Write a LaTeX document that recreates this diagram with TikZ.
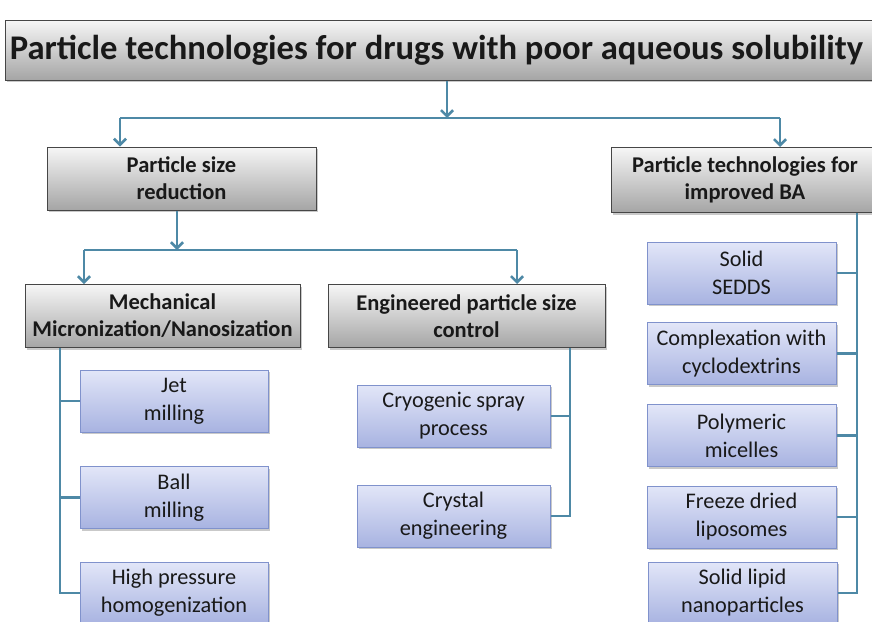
\documentclass[tikz,border=0pt]{standalone}
\usepackage{fontspec}
\setmainfont{Carlito}
\usetikzlibrary{arrows.meta,shadows}

\definecolor{linkblue}{RGB}{78,137,166}
\definecolor{greytop}{RGB}{246,246,246}
\definecolor{greybot}{RGB}{165,165,165}
\definecolor{greyedge}{RGB}{70,70,70}
\definecolor{bluetop}{RGB}{226,230,248}
\definecolor{bluebot}{RGB}{168,179,225}
\definecolor{blueedge}{RGB}{128,146,204}

\tikzset{
  boxshadow/.style={drop shadow={shadow xshift=1.5pt, shadow yshift=-2pt, opacity=0.35, fill=black!60}},
  greybox/.style={rectangle, draw=greyedge, line width=1pt,
    top color=greytop, bottom color=greybot, boxshadow,
    align=center, inner sep=0pt, text=black!90,
    font=\bfseries\fontsize{22.5}{27}\selectfont},
  titlebox/.style={greybox, font=\bfseries\fontsize{34.6}{40}\selectfont},
  bluebox/.style={rectangle, draw=blueedge, line width=1pt,
    top color=bluetop, bottom color=bluebot, boxshadow,
    align=center, inner sep=0pt, text=black!90,
    font=\fontsize{22.3}{28}\selectfont},
  conn/.style={draw=linkblue, line width=2.6pt},
  arr/.style={conn, -{Straight Barb[length=6pt,width=12pt,line width=2.6pt]}},
}

\begin{document}
\begin{tikzpicture}[x=1pt,y=-1pt]
\useasboundingbox[fill=white] (0,0) rectangle (872,621);

% header and first level
\node[titlebox, minimum width=870pt, minimum height=60pt] (title) at (440,50)
  {Particle technologies for drugs with poor aqueous solubility\hspace*{7pt}};
\node[greybox, minimum width=269pt, minimum height=63pt] (psr) at (181.5,178.5)
  {Particle size\\reduction};
\node[greybox, minimum width=268pt, minimum height=65pt] (ba) at (745,180)
  {Particle technologies for\\improved BA};

% second level
\node[greybox, minimum width=275pt, minimum height=63pt] (mech) at (162.5,316)
  {Mechanical\\Micronization/Nanosization};
\node[greybox, minimum width=277pt, minimum height=63pt] (eng) at (466.5,316)
  {Engineered particle size\\control};

% mechanical methods
\node[bluebox, minimum width=188pt, minimum height=62pt] (jet) at (174,401)
  {Jet\\milling};
\node[bluebox, minimum width=188pt, minimum height=62pt] (ball) at (174,497.5)
  {Ball\\milling};
\node[bluebox, minimum width=188pt, minimum height=62pt] (hph) at (174,593)
  {High pressure\\homogenization};

% engineered methods
\node[bluebox, minimum width=193pt, minimum height=62pt] (cryo) at (453.5,416)
  {Cryogenic spray\\process};
\node[bluebox, minimum width=193pt, minimum height=62pt] (cryst) at (453.5,516)
  {Crystal\\engineering};

% bioavailability technologies
\node[bluebox, minimum width=189pt, minimum height=62pt] (sedds) at (741.5,273)
  {Solid\\SEDDS};
\node[bluebox, minimum width=189pt, minimum height=62pt] (cyclo) at (741.5,353.5)
  {Complexation with\\cyclodextrins};
\node[bluebox, minimum width=189pt, minimum height=62pt] (micel) at (741.5,435.5)
  {Polymeric\\micelles};
\node[bluebox, minimum width=189pt, minimum height=62pt] (lipo) at (741.5,517)
  {Freeze dried\\liposomes};
\node[bluebox, minimum width=189pt, minimum height=62pt] (sln) at (742.5,593)
  {Solid lipid\\nanoparticles};

% junction points
\coordinate (j0) at (447,118);
\coordinate (j0l) at (120,118);
\coordinate (j0r) at (780,118);
\coordinate (j1) at (177,250);
\coordinate (j1l) at (84,250);
\coordinate (j1r) at (517,250);
\coordinate (lx) at (60,0);
\coordinate (ex) at (570,0);
\coordinate (rx) at (857,0);

% title split
\draw[arr] (title.south -| j0) -- (j0);
\draw[conn] (j0l) -- (j0r);
\draw[arr] (j0l) -- (psr.north -| j0l);
\draw[arr] (j0r) -- (ba.north -| j0r);

% size reduction split
\draw[arr] (psr.south -| j1) -- (j1);
\draw[conn] (j1l) -- (j1r);
\draw[arr] (j1l) -- (mech.north -| j1l);
\draw[arr] (j1r) -- (eng.north -| j1r);

% mechanical branch
\draw[conn] (mech.south -| lx) |- (hph.west);
\draw[conn] (lx |- jet.west) -- (jet.west);
\draw[conn] (lx |- ball.west) -- (ball.west);

% engineered branch
\draw[conn] (eng.south -| ex) |- (cryst.east);
\draw[conn] (ex |- cryo.east) -- (cryo.east);

% bioavailability branch
\draw[conn] (ba.south -| rx) |- (sln.east);
\draw[conn] (rx |- sedds.east) -- (sedds.east);
\draw[conn] (rx |- cyclo.east) -- (cyclo.east);
\draw[conn] (rx |- micel.east) -- (micel.east);
\draw[conn] (rx |- lipo.east) -- (lipo.east);
\end{tikzpicture}
\end{document}
